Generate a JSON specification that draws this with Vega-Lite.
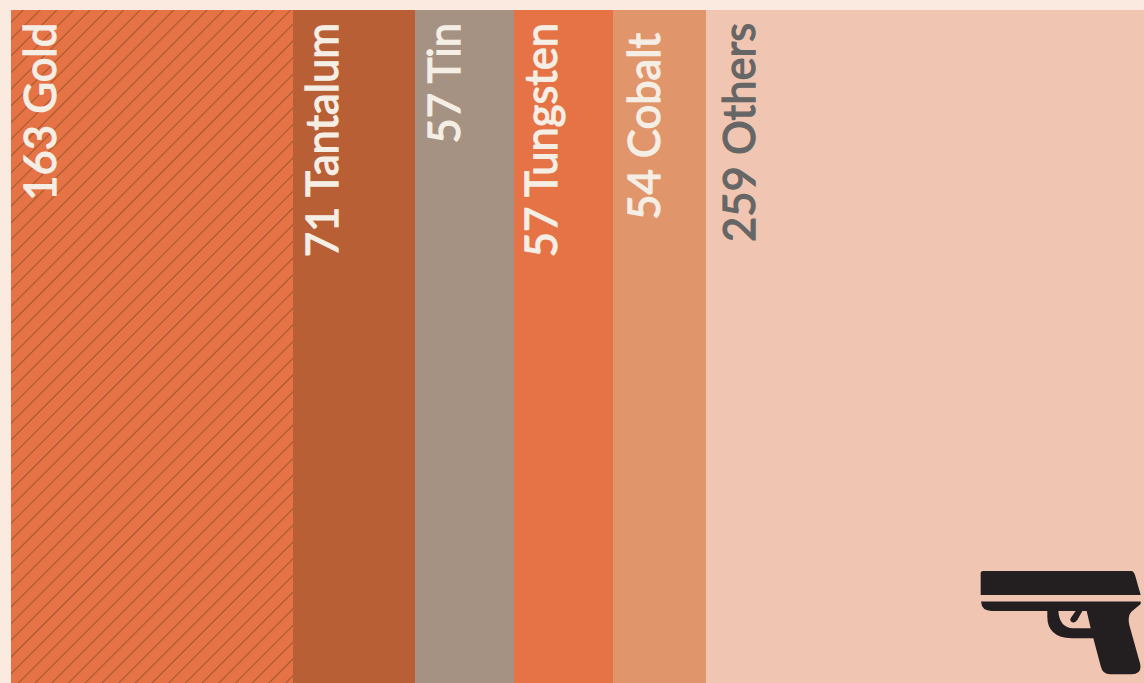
{"$schema":"https://vega.github.io/schema/vega-lite/v6.json","width":1144,"height":683,"padding":0,"autosize":"none","background":"#fbeae0","view":{"stroke":null},
"datasets":{"metals":[{"order":1,"metal":"Gold","value":163,"label":"163 Gold","low":0,"high":1},{"order":2,"metal":"Tantalum","value":71,"label":"71 Tantalum","low":0,"high":1},{"order":3,"metal":"Tin","value":57,"label":"57 Tin","low":0,"high":1},{"order":4,"metal":"Tungsten","value":57,"label":"57 Tungsten","low":0,"high":1},{"order":5,"metal":"Cobalt","value":54,"label":"54 Cobalt","low":0,"high":1},{"order":6,"metal":"Others","value":259,"label":"259 Others","low":0,"high":1}],
"icon":[{"name":"pistol","px":607.5,"py":0.0892}]},
"data":{"name":"metals"},
"transform":[{"stack":"value","sort":[{"field":"order","order":"ascending"}],"as":["x0","x1"]}],
"layer":[
{"mark":{"type":"bar","clip":true},"encoding":{"x":{"field":"x0","type":"quantitative","axis":null,"scale":{"domain":[-6.364,655.5],"nice":false,"zero":false,"round":true}},"x2":{"field":"x1"},"y":{"field":"low","type":"quantitative","axis":null,"scale":{"domain":[0,1],"range":[683,10],"nice":false,"zero":false}},"y2":{"field":"high"},"color":{"field":"metal","type":"nominal","legend":null,"scale":{"domain":["Gold","Tantalum","Tin","Tungsten","Cobalt","Others"],"range":["#e57345","#b95f35","#a69282","#e57345","#e0956a","#f0c5b1"]}}}},
{"transform":[{"filter":"datum.metal==='Gold'"}],"mark":{"type":"bar","fill":{"gradient":"linear","x1":0,"y1":0,"x2":0.5058,"y2":1.2071,"stops":[
{"offset":0.01128,"color":"#e57345"},{"offset":0.01298,"color":"#a9592f"},{"offset":0.01468,"color":"#e57345"},
{"offset":0.02877,"color":"#e57345"},{"offset":0.03047,"color":"#a9592f"},{"offset":0.03217,"color":"#e57345"},
{"offset":0.04626,"color":"#e57345"},{"offset":0.04796,"color":"#a9592f"},{"offset":0.04966,"color":"#e57345"},
{"offset":0.06375,"color":"#e57345"},{"offset":0.06545,"color":"#a9592f"},{"offset":0.06715,"color":"#e57345"},
{"offset":0.08123,"color":"#e57345"},{"offset":0.08293,"color":"#a9592f"},{"offset":0.08463,"color":"#e57345"},
{"offset":0.09872,"color":"#e57345"},{"offset":0.10042,"color":"#a9592f"},{"offset":0.10212,"color":"#e57345"},
{"offset":0.11621,"color":"#e57345"},{"offset":0.11791,"color":"#a9592f"},{"offset":0.11961,"color":"#e57345"},
{"offset":0.1337,"color":"#e57345"},{"offset":0.1354,"color":"#a9592f"},{"offset":0.1371,"color":"#e57345"},
{"offset":0.15118,"color":"#e57345"},{"offset":0.15288,"color":"#a9592f"},{"offset":0.15458,"color":"#e57345"},
{"offset":0.16867,"color":"#e57345"},{"offset":0.17037,"color":"#a9592f"},{"offset":0.17207,"color":"#e57345"},
{"offset":0.18616,"color":"#e57345"},{"offset":0.18786,"color":"#a9592f"},{"offset":0.18956,"color":"#e57345"},
{"offset":0.20364,"color":"#e57345"},{"offset":0.20534,"color":"#a9592f"},{"offset":0.20704,"color":"#e57345"},
{"offset":0.22113,"color":"#e57345"},{"offset":0.22283,"color":"#a9592f"},{"offset":0.22453,"color":"#e57345"},
{"offset":0.23862,"color":"#e57345"},{"offset":0.24032,"color":"#a9592f"},{"offset":0.24202,"color":"#e57345"},
{"offset":0.2561,"color":"#e57345"},{"offset":0.2578,"color":"#a9592f"},{"offset":0.2595,"color":"#e57345"},
{"offset":0.27359,"color":"#e57345"},{"offset":0.27529,"color":"#a9592f"},{"offset":0.27699,"color":"#e57345"},
{"offset":0.29108,"color":"#e57345"},{"offset":0.29278,"color":"#a9592f"},{"offset":0.29448,"color":"#e57345"},
{"offset":0.30857,"color":"#e57345"},{"offset":0.31027,"color":"#a9592f"},{"offset":0.31197,"color":"#e57345"},
{"offset":0.32605,"color":"#e57345"},{"offset":0.32775,"color":"#a9592f"},{"offset":0.32945,"color":"#e57345"},
{"offset":0.34354,"color":"#e57345"},{"offset":0.34524,"color":"#a9592f"},{"offset":0.34694,"color":"#e57345"},
{"offset":0.36102,"color":"#e57345"},{"offset":0.36272,"color":"#a9592f"},{"offset":0.36442,"color":"#e57345"},
{"offset":0.37851,"color":"#e57345"},{"offset":0.38021,"color":"#a9592f"},{"offset":0.38191,"color":"#e57345"},
{"offset":0.396,"color":"#e57345"},{"offset":0.3977,"color":"#a9592f"},{"offset":0.3994,"color":"#e57345"},
{"offset":0.41349,"color":"#e57345"},{"offset":0.41519,"color":"#a9592f"},{"offset":0.41689,"color":"#e57345"},
{"offset":0.43097,"color":"#e57345"},{"offset":0.43267,"color":"#a9592f"},{"offset":0.43437,"color":"#e57345"},
{"offset":0.44846,"color":"#e57345"},{"offset":0.45016,"color":"#a9592f"},{"offset":0.45186,"color":"#e57345"},
{"offset":0.46595,"color":"#e57345"},{"offset":0.46765,"color":"#a9592f"},{"offset":0.46935,"color":"#e57345"},
{"offset":0.48344,"color":"#e57345"},{"offset":0.48514,"color":"#a9592f"},{"offset":0.48684,"color":"#e57345"},
{"offset":0.50092,"color":"#e57345"},{"offset":0.50262,"color":"#a9592f"},{"offset":0.50432,"color":"#e57345"},
{"offset":0.51841,"color":"#e57345"},{"offset":0.52011,"color":"#a9592f"},{"offset":0.52181,"color":"#e57345"},
{"offset":0.5359,"color":"#e57345"},{"offset":0.5376,"color":"#a9592f"},{"offset":0.5393,"color":"#e57345"},
{"offset":0.55338,"color":"#e57345"},{"offset":0.55508,"color":"#a9592f"},{"offset":0.55678,"color":"#e57345"},
{"offset":0.57087,"color":"#e57345"},{"offset":0.57257,"color":"#a9592f"},{"offset":0.57427,"color":"#e57345"},
{"offset":0.58836,"color":"#e57345"},{"offset":0.59006,"color":"#a9592f"},{"offset":0.59176,"color":"#e57345"},
{"offset":0.60585,"color":"#e57345"},{"offset":0.60755,"color":"#a9592f"},{"offset":0.60925,"color":"#e57345"},
{"offset":0.62333,"color":"#e57345"},{"offset":0.62503,"color":"#a9592f"},{"offset":0.62673,"color":"#e57345"},
{"offset":0.64082,"color":"#e57345"},{"offset":0.64252,"color":"#a9592f"},{"offset":0.64422,"color":"#e57345"},
{"offset":0.65831,"color":"#e57345"},{"offset":0.66001,"color":"#a9592f"},{"offset":0.66171,"color":"#e57345"},
{"offset":0.67579,"color":"#e57345"},{"offset":0.67749,"color":"#a9592f"},{"offset":0.67919,"color":"#e57345"},
{"offset":0.69328,"color":"#e57345"},{"offset":0.69498,"color":"#a9592f"},{"offset":0.69668,"color":"#e57345"},
{"offset":0.71077,"color":"#e57345"},{"offset":0.71247,"color":"#a9592f"},{"offset":0.71417,"color":"#e57345"},
{"offset":0.72826,"color":"#e57345"},{"offset":0.72996,"color":"#a9592f"},{"offset":0.73166,"color":"#e57345"},
{"offset":0.74574,"color":"#e57345"},{"offset":0.74744,"color":"#a9592f"},{"offset":0.74914,"color":"#e57345"},
{"offset":0.76323,"color":"#e57345"},{"offset":0.76493,"color":"#a9592f"},{"offset":0.76663,"color":"#e57345"},
{"offset":0.78072,"color":"#e57345"},{"offset":0.78242,"color":"#a9592f"},{"offset":0.78412,"color":"#e57345"},
{"offset":0.7982,"color":"#e57345"},{"offset":0.7999,"color":"#a9592f"},{"offset":0.8016,"color":"#e57345"},
{"offset":0.81569,"color":"#e57345"},{"offset":0.81739,"color":"#a9592f"},{"offset":0.81909,"color":"#e57345"},
{"offset":0.83318,"color":"#e57345"},{"offset":0.83488,"color":"#a9592f"},{"offset":0.83658,"color":"#e57345"},
{"offset":0.85067,"color":"#e57345"},{"offset":0.85237,"color":"#a9592f"},{"offset":0.85407,"color":"#e57345"},
{"offset":0.86815,"color":"#e57345"},{"offset":0.86985,"color":"#a9592f"},{"offset":0.87155,"color":"#e57345"},
{"offset":0.88564,"color":"#e57345"},{"offset":0.88734,"color":"#a9592f"},{"offset":0.88904,"color":"#e57345"},
{"offset":0.90313,"color":"#e57345"},{"offset":0.90483,"color":"#a9592f"},{"offset":0.90653,"color":"#e57345"},
{"offset":0.92062,"color":"#e57345"},{"offset":0.92232,"color":"#a9592f"},{"offset":0.92402,"color":"#e57345"},
{"offset":0.9381,"color":"#e57345"},{"offset":0.9398,"color":"#a9592f"},{"offset":0.9415,"color":"#e57345"},
{"offset":0.95559,"color":"#e57345"},{"offset":0.95729,"color":"#a9592f"},{"offset":0.95899,"color":"#e57345"},
{"offset":0.97308,"color":"#e57345"},{"offset":0.97478,"color":"#a9592f"},{"offset":0.97648,"color":"#e57345"},
{"offset":0.99056,"color":"#e57345"},{"offset":0.99226,"color":"#a9592f"},{"offset":0.99396,"color":"#e57345"}
]}},"encoding":{"x":{"field":"x0","type":"quantitative"},"x2":{"field":"x1"},"y":{"field":"low","type":"quantitative"},"y2":{"field":"high"}}},
{"transform":[{"filter":"datum.metal==='Gold'||datum.metal==='Tantalum'||datum.metal==='Tin'"}],"mark":{"type":"text","font":"Lato","fontSize":43.5,"fontWeight":"normal","stroke":"#f4eee5","strokeWidth":1.3,"angle":270,"align":"right","baseline":"alphabetic","dx":-13,"dy":45,"color":"#f4eee5"},"encoding":{"x":{"field":"x0","type":"quantitative"},"y":{"datum":1,"type":"quantitative"},"text":{"field":"label","type":"nominal"}}},
{"transform":[{"filter":"datum.metal==='Tungsten'"}],"mark":{"type":"text","font":"Lato","fontSize":43.5,"fontWeight":"normal","stroke":"#f4eee5","strokeWidth":1.3,"angle":270,"align":"right","baseline":"alphabetic","dx":-13,"dy":43,"color":"#f4eee5"},"encoding":{"x":{"field":"x0","type":"quantitative"},"y":{"datum":1,"type":"quantitative"},"text":{"field":"label","type":"nominal"}}},
{"transform":[{"filter":"datum.metal==='Cobalt'"}],"mark":{"type":"text","font":"Lato","fontSize":43.5,"fontWeight":"normal","stroke":"#f4eee5","strokeWidth":1.3,"angle":270,"align":"right","baseline":"alphabetic","dx":-23,"dy":47,"color":"#f4eee5"},"encoding":{"x":{"field":"x0","type":"quantitative"},"y":{"datum":1,"type":"quantitative"},"text":{"field":"label","type":"nominal"}}},
{"transform":[{"filter":"datum.metal==='Others'"}],"mark":{"type":"text","font":"Lato","fontSize":43.5,"fontWeight":"normal","stroke":"#666666","strokeWidth":1.3,"angle":270,"align":"right","baseline":"alphabetic","dx":-13,"dy":49,"color":"#666666"},"encoding":{"x":{"field":"x0","type":"quantitative"},"y":{"datum":1,"type":"quantitative"},"text":{"field":"label","type":"nominal"}}},
{"data":{"name":"icon"},"transform":[],"mark":{"type":"point","filled":true,"opacity":1,"size":25600,"color":"#231f20","strokeWidth":0,"shape":"M-0.971 -0.65 L0.883 -0.65 Q0.904 -0.65 0.925 -0.6 L0.996 -0.35 L-1.004 -0.35 L-1.004 -0.621 Q-1.004 -0.65 -0.971 -0.65 Z M-1 -0.267 L0.996 -0.267 L0.996 -0.2375 L0.883 -0.142 Q0.829 -0.0875 0.854 0.025 L0.9875 0.504 Q1.02 0.642 0.883 0.642 L0.6125 0.642 Q0.52 0.642 0.496 0.5375 L0.404 0.192 L0.133 0.192 Q-0.171 0.179 -0.171 -0.079 L-0.171 -0.15 L-0.867 -0.15 Q-0.992 -0.15 -1 -0.267 Z M-0.033 -0.15 Q-0.021 0.058 0.154 0.067 L0.371 0.067 L0.321 -0.15 L0.267 -0.15 L0.204 -0.0375 Q0.163 0.0125 0.125 -0.017 Q0.104 -0.046 0.133 -0.079 L0.183 -0.15 Z"},"encoding":{"x":{"field":"px","type":"quantitative"},"y":{"field":"py","type":"quantitative"}}}
]}
